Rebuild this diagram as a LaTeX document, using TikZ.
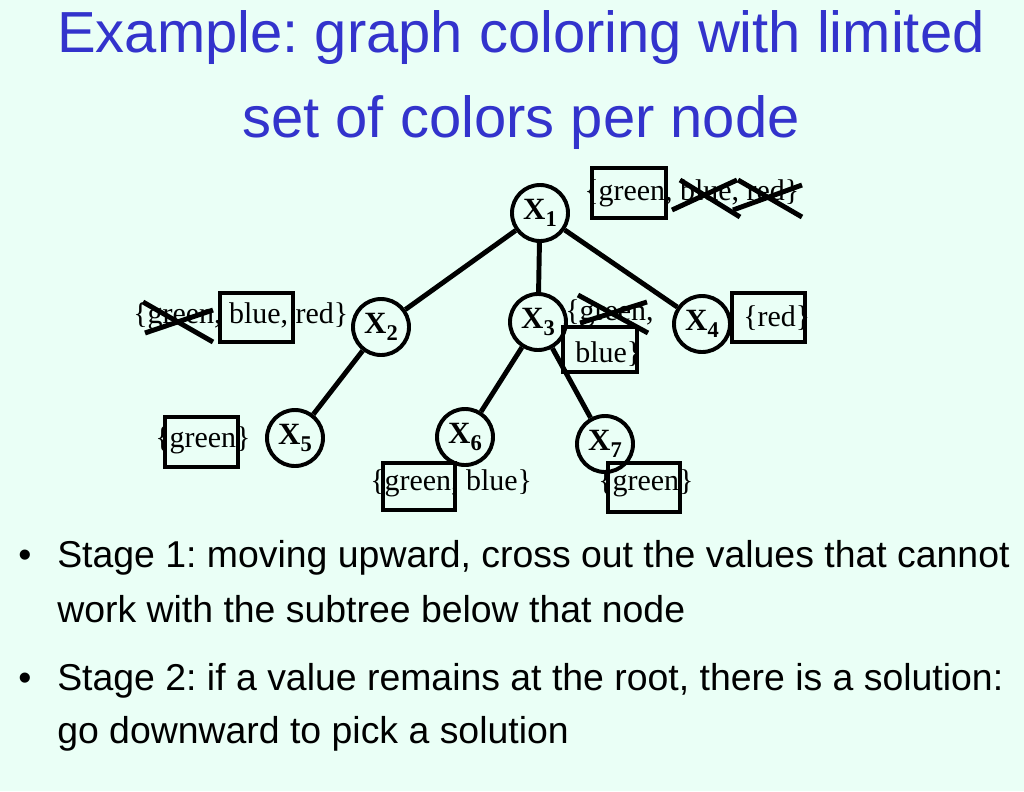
\documentclass[tikz,border=0pt]{standalone}
\usepackage{fontspec}
\setmainfont{Liberation Serif}
\newfontfamily\slidefont{Liberation Sans}
\definecolor{bgmint}{RGB}{234,255,246}
\definecolor{titleblue}{RGB}{51,51,204}
\newcommand\varsub[1]{\raisebox{-5pt}{\fontsize{16}{16}\selectfont#1}}
\frenchspacing

\begin{document}
\begin{tikzpicture}[x=0.025cm,y=-0.025cm,
  var/.style={draw,shape=circle,line width=2.8pt,minimum size=1.4cm,inner sep=0pt,
    font=\fontsize{22}{24}\selectfont\bfseries},
  dom/.style={anchor=base west,inner sep=0pt,font=\fontsize{21.3}{26}\selectfont},
  keep/.style={line width=3.5pt},
  strike/.style={line width=3.5pt},
  edge/.style={line width=3.5pt},
  heading/.style={anchor=base,inner sep=0pt,text=titleblue,
    font=\slidefont\fontsize{41.2}{50}\selectfont},
  bullet/.style={anchor=base west,inner sep=0pt,
    font=\slidefont\fontsize{26.6}{38}\selectfont}]
	\useasboundingbox (0,0) rectangle (1024,791);
	\fill[bgmint] (0,0) rectangle (1024,791);
	% title
	\path (521,52) node[heading] (t1) {Example: graph coloring with limited};
	\path (521,137) node[heading] (t2) {set of colors per node};
	% variables
	\path (540,213) node[var] (x1) {X\varsub{1}};
	\path (381,327) node[var] (x2) {X\varsub{2}};
	\path (538,322) node[var] (x3) {X\varsub{3}};
	\path (702,324) node[var] (x4) {X\varsub{4}};
	\path (295,438) node[var] (x5) {X\varsub{5}};
	\path (465,437) node[var] (x6) {X\varsub{6}};
	\path (605,444) node[var] (x7) {X\varsub{7}};
	\draw[edge] (x1) -- (x2);
	\draw[edge] (x1) -- (x3);
	\draw[edge] (x1) -- (x4);
	\draw[edge] (x2) -- (x5);
	\draw[edge] (x3) -- (x6);
	\draw[edge] (x3) -- (x7);
	% domains
	\path (584,200) node[dom] (d1) {\{green, blue, red\}};
	\path (133,323) node[dom] (d2) {\{green, blue, red\}};
	\path (565,320) node[dom] (d3a) {\{green,};
	\path (575,362) node[dom] (d3b) {blue\}};
	\path (743,326) node[dom] (d4) {\{red\}};
	\path (155,447) node[dom] (d5) {\{green\}};
	\path (370,490) node[dom] (d6) {\{green, blue\}};
	\path (598,490) node[dom] (d7) {\{green\}};
	% kept values
	\draw[keep] (592,168) rectangle (666,218);
	\draw[keep] (220,293) rectangle (293,342);
	\draw[keep] (563,327) rectangle (637,372);
	\draw[keep] (732,293) rectangle (805,342);
	\draw[keep] (165,417) rectangle (238,467);
	\draw[keep] (383,463) rectangle (455,510);
	\draw[keep] (608,463) rectangle (680,512);
	% crossed out values
	\draw[strike] (672,210) -- (737,180);
	\draw[strike] (680,180) -- (740,217);
	\draw[strike] (733,210) -- (802,185);
	\draw[strike] (738,180) -- (802,217);
	\draw[strike] (143,302) -- (213,342);
	\draw[strike] (145,333) -- (213,310);
	\draw[strike] (578,295) -- (648,333);
	\draw[strike] (580,323) -- (647,302);
	% stages
	\path (18,567) node[bullet] (s1) {•};
	\path (57,567) node[bullet] (b1a) {Stage 1: moving upward, cross out the values that cannot};
	\path (57,622) node[bullet] (b1b) {work with the subtree below that node};
	\path (18,690) node[bullet] (s2) {•};
	\path (57,690) node[bullet] (b2a) {Stage 2: if a value remains at the root, there is a solution:};
	\path (57,743) node[bullet] (b2b) {go downward to pick a solution};
\end{tikzpicture}
\end{document}
